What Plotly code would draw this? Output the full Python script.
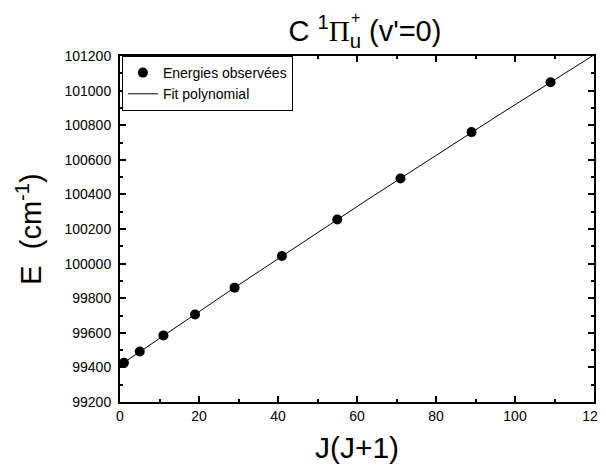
import numpy as np
import plotly.graph_objects as go

# Data
j_values = [1, 5, 11, 19, 29, 41, 55, 71, 89, 109]
energies = [99427, 99492, 99585, 99706, 99861, 100044, 100255, 100492, 100760, 101048]
fit_x = list(range(0, 121, 2))
x_tickvals = [0, 20, 40, 60, 80, 100, 120]
y_tickvals = [99200, 99400, 99600, 99800, 100000, 100200, 100400, 100600, 100800, 101000, 101200]

coeffs = np.polyfit(j_values, energies, 2)
fit_y = np.polyval(coeffs, fit_x)

FONT = "Liberation Sans, Arial, sans-serif"

fig = go.Figure()
fig.add_trace(go.Scatter(
    x=j_values, y=energies, mode="markers", name="Energies observées",
    marker=dict(color="black", size=10, symbol="circle"),
))
fig.add_trace(go.Scatter(
    x=fit_x, y=fit_y, mode="lines", name="Fit polynomial",
    line=dict(color="black", width=1),
))

axis_common = dict(
    showline=True, linecolor="black", linewidth=2, mirror="ticks",
    ticks="inside", tickcolor="black", tickwidth=2, ticklen=6,
    showgrid=False, zeroline=False, automargin=False,
    tickfont=dict(family=FONT, size=14, color="black"),
)

fig.update_xaxes(
    range=[0, 120], tickvals=x_tickvals,
    minor=dict(dtick=10, ticks="inside", ticklen=3, tickwidth=2, tickcolor="black"),
    title=dict(text="J(J+1)", font=dict(family=FONT, size=30, color="black"), standoff=14),
    **axis_common,
)
fig.update_yaxes(
    range=[99200, 101200], tickvals=y_tickvals, tickformat="d",
    minor=dict(dtick=100, ticks="inside", ticklen=3, tickwidth=2, tickcolor="black"),
    ticklabelstandoff=4,
    title=dict(text="E  (cm<sup>-1</sup>)", font=dict(family=FONT, size=29, color="black"), standoff=14),
    **axis_common,
)

fig.update_layout(
    width=606, height=466,
    margin=dict(l=112, r=20, t=48, b=72),
    paper_bgcolor="white", plot_bgcolor="white",
    font=dict(family=FONT, color="black"),
    title=dict(
        text="C <sup>1</sup><span style='font-family:Liberation Serif'>Π</span><sub>u</sub> (v'=0)",
        x=0.589, xanchor="center", y=0.95, yanchor="middle",
        font=dict(family=FONT, size=29, color="black"),
    ),
    legend=dict(
        x=0.004, y=1, xanchor="left", yanchor="top",
        bgcolor="white", bordercolor="black", borderwidth=1,
        font=dict(family=FONT, size=14, color="black"),
        tracegroupgap=0, itemsizing="trace",
    ),
    showlegend=True,
    annotations=[dict(
        text="+", xref="paper", yref="paper", x=0.4965, y=1.11,
        xanchor="center", yanchor="middle", showarrow=False,
        font=dict(family=FONT, size=16, color="black"),
    )],
)

fig.write_html("out.html")
